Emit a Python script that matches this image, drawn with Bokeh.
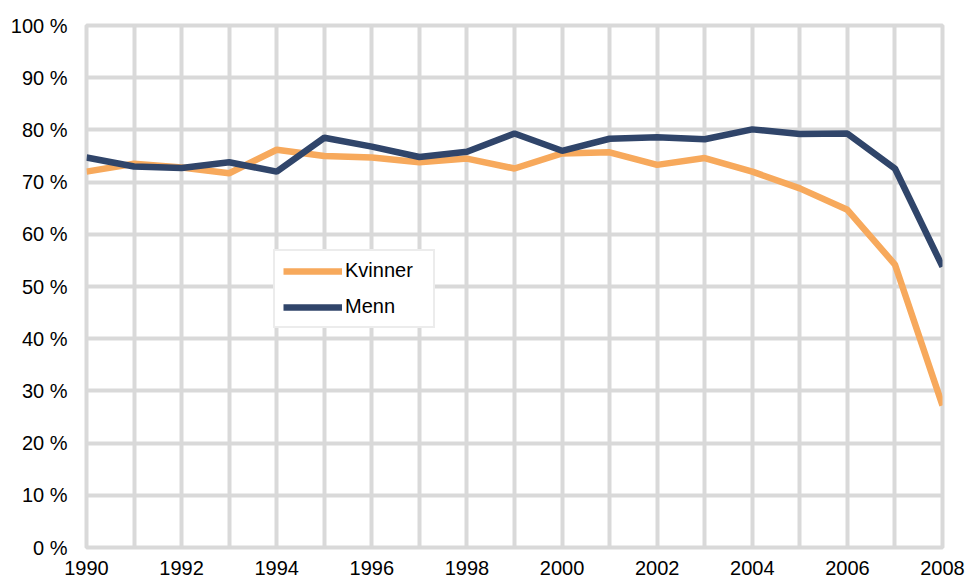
from bokeh.plotting import figure
from bokeh.models import FixedTicker, Legend, LegendItem
from bokeh.embed import file_html
from bokeh.resources import INLINE

years = list(range(1990, 2009))
kvinner = [72.0, 73.5, 72.8, 71.7, 76.2, 75.0, 74.7, 73.8, 74.5, 72.6, 75.5, 75.7, 73.3, 74.6, 72.0, 68.8, 64.7, 54.2, 27.2]
menn = [74.7, 73.0, 72.7, 73.8, 72.0, 78.5, 76.8, 74.8, 75.8, 79.3, 76.0, 78.3, 78.6, 78.2, 80.1, 79.2, 79.3, 72.6, 53.8]
y_ticks = list(range(0, 101, 10))
y_labels = {t: f"{t} %" for t in y_ticks}
x_label_ticks = years[::2]

FONT = "Liberation Sans"

p = figure(width=968, height=580, output_backend="svg", toolbar_location=None,
           x_range=(1990, 2008), y_range=(0, 100),
           min_border_left=86, min_border_right=26, min_border_top=25, min_border_bottom=33)
p.outline_line_color = "#d9d9d9"
p.outline_line_width = 4
p.background_fill_color = "white"
p.border_fill_color = "white"

p.xaxis.ticker = FixedTicker(ticks=x_label_ticks)
p.xgrid.ticker = FixedTicker(ticks=years)
p.yaxis.ticker = FixedTicker(ticks=y_ticks)
p.ygrid.ticker = FixedTicker(ticks=y_ticks)
p.yaxis.major_label_overrides = y_labels

for g in (p.xgrid, p.ygrid):
    g.grid_line_color = "#d9d9d9"
    g.grid_line_width = 4
    g.grid_line_alpha = 1.0

for ax in (p.xaxis, p.yaxis):
    ax.axis_line_color = None
    ax.major_tick_line_color = None
    ax.minor_tick_line_color = None
    ax.major_label_text_font = FONT
    ax.major_label_text_font_size = "20px"
    ax.major_label_text_color = "#000000"
p.xaxis.major_label_standoff = 7
p.yaxis.major_label_standoff = 13

rk = p.line(years, kvinner, line_color="#F7A95C", line_width=6.5)
rm = p.line(years, menn, line_color="#30456A", line_width=6.5)

legend = Legend(items=[LegendItem(label="Kvinner", renderers=[rk]),
                       LegendItem(label="Menn", renderers=[rm])],
                location=(187, 219))
legend.border_line_color = "#d9d9d9"
legend.border_line_width = 2
legend.background_fill_color = "white"
legend.background_fill_alpha = 1.0
legend.label_text_font = FONT
legend.label_text_font_size = "20px"
legend.label_text_color = "#000000"
legend.glyph_width = 59
legend.glyph_height = 18
legend.label_height = 18
legend.label_width = 80
legend.label_standoff = 3
legend.spacing = 13
legend.padding = 8
legend.margin = 0
p.add_layout(legend, "center")

open("out.html", "w").write(file_html(p, INLINE))
